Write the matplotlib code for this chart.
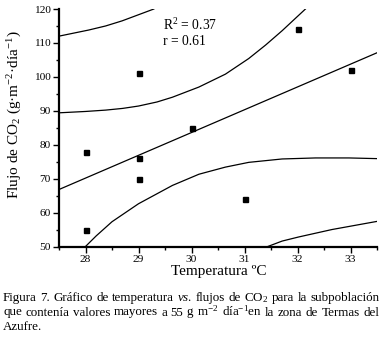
"""Temperatura vs. flujo de CO2, Termas del Azufre (figura 7)."""
import matplotlib

matplotlib.use("Agg")
import matplotlib.pyplot as plt
from matplotlib.ticker import MultipleLocator

plt.rcParams["font.family"] = ["Liberation Serif", "DejaVu Serif"]
plt.rcParams["mathtext.fontset"] = "custom"
plt.rcParams["mathtext.rm"] = "Liberation Serif"
plt.rcParams["mathtext.it"] = "Liberation Serif:italic"

# measured points
temp = [28, 28, 29, 29, 29, 30, 31, 32, 33]
flux = [78, 55, 101, 76, 70, 85, 64, 114, 102]

# regression line, read at the plot edges
fit_x = [27.5, 33.5]
fit_y = [66.8, 107.1]

# inner band (confidence)
conf_up_x = [27.5, 28.0, 28.38, 28.7, 29.0, 29.35, 29.64, 30.14, 30.64, 31.08, 31.4, 31.71, 32.15]
conf_up_y = [89.4, 89.8, 90.2, 90.7, 91.4, 92.6, 94.0, 97.0, 100.8, 105.4, 109.4, 113.6, 120.0]
conf_lo_x = [28.0, 28.2, 28.5, 29.0, 29.64, 30.14, 30.64, 31.08, 31.71, 32.34, 32.97, 33.5]
conf_lo_y = [50.0, 53.1, 57.3, 62.6, 68.0, 71.3, 73.4, 74.8, 75.8, 76.1, 76.1, 75.9]

# outer band (prediction)
pred_up_x = [27.5, 28.06, 28.38, 28.69, 29.29]
pred_up_y = [112.0, 113.8, 115.0, 116.5, 120.0]
pred_lo_x = [31.44, 31.71, 32.02, 32.65, 33.5]
pred_lo_y = [50.0, 51.6, 52.8, 55.0, 57.4]

stats_lines = ["R$^2$ = 0.37", "r = 0.61"]

caption_lines = [
    ["Figura", "7.", "Gráfico", "de", "temperatura", "$\\it{vs.}$", "flujos", "de",
     "CO$_2$", "para", "la", "subpoblación"],
    ["que", "contenía", "valores", "mayores", "a", "55", "g", "m$^{-2}$",
     "día$^{-1}$en", "la", "zona", "de", "Termas", "del"],
    ["Azufre."],
]

W, H = 382, 343
fig = plt.figure(figsize=(W / 100, H / 100), dpi=100)
ax = fig.add_axes([59 / W, 1 - 246.5 / H, 318 / W, 237.5 / H])

lw = 0.9
ax.plot(fit_x, fit_y, color="black", lw=lw)
ax.plot(conf_up_x, conf_up_y, color="black", lw=lw)
ax.plot(conf_lo_x, conf_lo_y, color="black", lw=lw)
ax.plot(pred_up_x, pred_up_y, color="black", lw=lw)
ax.plot(pred_lo_x, pred_lo_y, color="black", lw=lw)
ax.plot(temp, flux, "s", color="black", ms=3.6, clip_on=False)

ax.set_xlim(27.5, 33.5)
ax.set_ylim(50, 120)
ax.xaxis.set_major_locator(MultipleLocator(1))
ax.xaxis.set_minor_locator(MultipleLocator(0.5))
ax.yaxis.set_major_locator(MultipleLocator(10))
ax.yaxis.set_minor_locator(MultipleLocator(5))
ax.tick_params(which="both", direction="out", width=1, labelsize=8.2, pad=2)
ax.tick_params(which="major", length=4)
ax.tick_params(which="minor", length=2.5)
for side in ("top", "right"):
    ax.spines[side].set_visible(False)
for side in ("left", "bottom"):
    ax.spines[side].set_linewidth(1.6)

for line, base in zip(stats_lines, [30, 45]):
    fig.text(163 / W, 1 - base / H, line, fontsize=9.8, va="baseline")

fig.text(219 / W, 1 - 271 / H, "Temperatura ºC", ha="center", va="center",
         fontsize=11)
fig.text(15 / W, 1 - 115 / H, "Flujo de CO$_2$ (g·m$^{-2}$·día$^{-1}$)",
         rotation=90, ha="center", va="center", fontsize=11)

# justified caption below the chart
renderer = fig.canvas.get_renderer()
left, right = 3, 379
baselines = [301, 315.5, 329.5]
for i, (words, base) in enumerate(zip(caption_lines, baselines)):
    items = [fig.text(0, 1 - base / H, w, fontsize=9.4, va="baseline")
             for w in words]
    widths = [t.get_window_extent(renderer).width for t in items]
    if i < len(caption_lines) - 1:
        gap = (right - left - sum(widths)) / (len(items) - 1)
    else:
        gap = 2.6
    x = left
    for t, w in zip(items, widths):
        t.set_x(x / W)
        x += w + gap

fig.savefig("out.png", dpi=100)
